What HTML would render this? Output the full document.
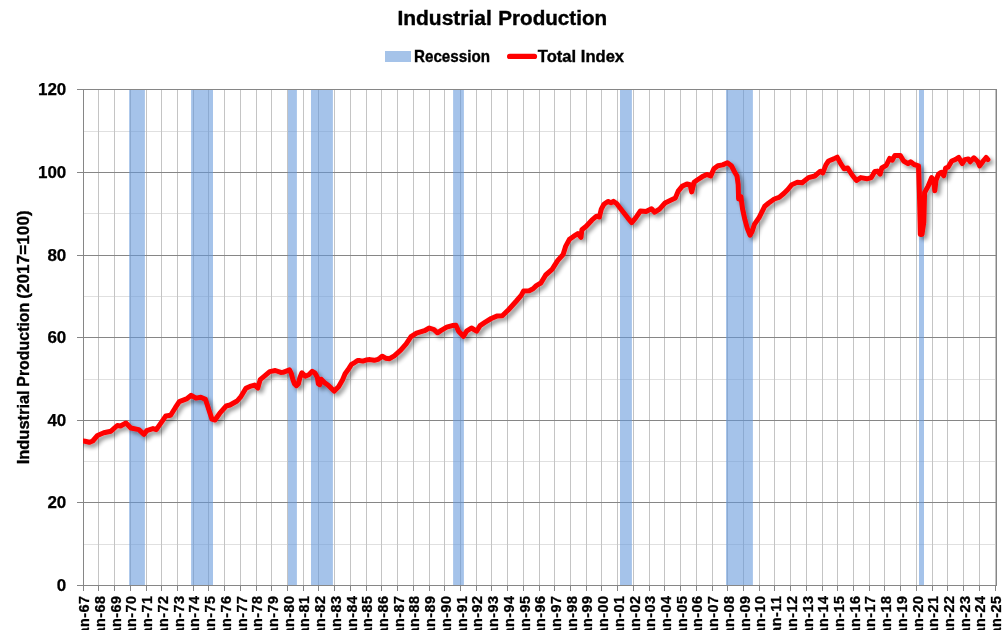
<!DOCTYPE html>
<html lang="en"><head><meta charset="utf-8"><title>Industrial Production</title>
<style>html,body{margin:0;padding:0;background:#fff}body{width:1007px;height:630px;overflow:hidden}svg{display:block}text{font-family:"Liberation Sans",sans-serif;font-weight:bold;fill:#000}</style></head><body>
<svg width="1007" height="630" viewBox="0 0 1007 630">
<defs><clipPath id="cp"><rect x="83" y="80" width="924" height="520"/></clipPath><filter id="sh" x="-5%" y="-20%" width="110%" height="140%"><feGaussianBlur in="SourceAlpha" stdDeviation="2.1"/><feOffset dx="3" dy="3"/><feComponentTransfer><feFuncA type="linear" slope="0.42"/></feComponentTransfer><feMerge><feMergeNode/><feMergeNode in="SourceGraphic"/></feMerge></filter></defs>
<rect width="1007" height="630" fill="#fff"/>
<g shape-rendering="crispEdges"><rect x="84" y="544" width="912" height="1" fill="#e0e0e0"/><rect x="84" y="461" width="912" height="1" fill="#e0e0e0"/><rect x="84" y="379" width="912" height="1" fill="#e0e0e0"/><rect x="84" y="296" width="912" height="1" fill="#e0e0e0"/><rect x="84" y="213" width="912" height="1" fill="#e0e0e0"/><rect x="84" y="131" width="912" height="1" fill="#e0e0e0"/><rect x="98" y="90" width="1" height="495" fill="#c4c4c4"/><rect x="114" y="90" width="1" height="495" fill="#c4c4c4"/><rect x="130" y="90" width="1" height="495" fill="#c4c4c4"/><rect x="146" y="90" width="1" height="495" fill="#c4c4c4"/><rect x="161" y="90" width="1" height="495" fill="#c4c4c4"/><rect x="177" y="90" width="1" height="495" fill="#c4c4c4"/><rect x="193" y="90" width="1" height="495" fill="#c4c4c4"/><rect x="208" y="90" width="1" height="495" fill="#c4c4c4"/><rect x="224" y="90" width="1" height="495" fill="#c4c4c4"/><rect x="240" y="90" width="1" height="495" fill="#c4c4c4"/><rect x="256" y="90" width="1" height="495" fill="#c4c4c4"/><rect x="271" y="90" width="1" height="495" fill="#c4c4c4"/><rect x="287" y="90" width="1" height="495" fill="#c4c4c4"/><rect x="303" y="90" width="1" height="495" fill="#c4c4c4"/><rect x="318" y="90" width="1" height="495" fill="#c4c4c4"/><rect x="334" y="90" width="1" height="495" fill="#c4c4c4"/><rect x="350" y="90" width="1" height="495" fill="#c4c4c4"/><rect x="366" y="90" width="1" height="495" fill="#c4c4c4"/><rect x="381" y="90" width="1" height="495" fill="#c4c4c4"/><rect x="397" y="90" width="1" height="495" fill="#c4c4c4"/><rect x="413" y="90" width="1" height="495" fill="#c4c4c4"/><rect x="429" y="90" width="1" height="495" fill="#c4c4c4"/><rect x="444" y="90" width="1" height="495" fill="#c4c4c4"/><rect x="460" y="90" width="1" height="495" fill="#c4c4c4"/><rect x="476" y="90" width="1" height="495" fill="#c4c4c4"/><rect x="491" y="90" width="1" height="495" fill="#c4c4c4"/><rect x="507" y="90" width="1" height="495" fill="#c4c4c4"/><rect x="523" y="90" width="1" height="495" fill="#c4c4c4"/><rect x="539" y="90" width="1" height="495" fill="#c4c4c4"/><rect x="554" y="90" width="1" height="495" fill="#c4c4c4"/><rect x="570" y="90" width="1" height="495" fill="#c4c4c4"/><rect x="586" y="90" width="1" height="495" fill="#c4c4c4"/><rect x="601" y="90" width="1" height="495" fill="#c4c4c4"/><rect x="617" y="90" width="1" height="495" fill="#c4c4c4"/><rect x="633" y="90" width="1" height="495" fill="#c4c4c4"/><rect x="649" y="90" width="1" height="495" fill="#c4c4c4"/><rect x="664" y="90" width="1" height="495" fill="#c4c4c4"/><rect x="680" y="90" width="1" height="495" fill="#c4c4c4"/><rect x="696" y="90" width="1" height="495" fill="#c4c4c4"/><rect x="712" y="90" width="1" height="495" fill="#c4c4c4"/><rect x="727" y="90" width="1" height="495" fill="#c4c4c4"/><rect x="743" y="90" width="1" height="495" fill="#c4c4c4"/><rect x="759" y="90" width="1" height="495" fill="#c4c4c4"/><rect x="774" y="90" width="1" height="495" fill="#c4c4c4"/><rect x="790" y="90" width="1" height="495" fill="#c4c4c4"/><rect x="806" y="90" width="1" height="495" fill="#c4c4c4"/><rect x="822" y="90" width="1" height="495" fill="#c4c4c4"/><rect x="837" y="90" width="1" height="495" fill="#c4c4c4"/><rect x="853" y="90" width="1" height="495" fill="#c4c4c4"/><rect x="869" y="90" width="1" height="495" fill="#c4c4c4"/><rect x="884" y="90" width="1" height="495" fill="#c4c4c4"/><rect x="900" y="90" width="1" height="495" fill="#c4c4c4"/><rect x="916" y="90" width="1" height="495" fill="#c4c4c4"/><rect x="932" y="90" width="1" height="495" fill="#c4c4c4"/><rect x="947" y="90" width="1" height="495" fill="#c4c4c4"/><rect x="963" y="90" width="1" height="495" fill="#c4c4c4"/><rect x="979" y="90" width="1" height="495" fill="#c4c4c4"/><rect x="995" y="90" width="1" height="495" fill="#c4c4c4"/><rect x="77" y="502" width="919" height="1" fill="#868686"/><rect x="77" y="420" width="919" height="1" fill="#868686"/><rect x="77" y="337" width="919" height="1" fill="#868686"/><rect x="77" y="255" width="919" height="1" fill="#868686"/><rect x="77" y="172" width="919" height="1" fill="#868686"/><rect x="77" y="89" width="919" height="1" fill="#868686"/><rect x="77" y="585" width="920" height="1" fill="#868686"/><rect x="83" y="89" width="1" height="497" fill="#868686"/><rect x="996" y="89" width="1" height="497" fill="#868686"/><rect x="83" y="586" width="1" height="5" fill="#868686"/><rect x="98" y="586" width="1" height="5" fill="#868686"/><rect x="114" y="586" width="1" height="5" fill="#868686"/><rect x="130" y="586" width="1" height="5" fill="#868686"/><rect x="146" y="586" width="1" height="5" fill="#868686"/><rect x="161" y="586" width="1" height="5" fill="#868686"/><rect x="177" y="586" width="1" height="5" fill="#868686"/><rect x="193" y="586" width="1" height="5" fill="#868686"/><rect x="208" y="586" width="1" height="5" fill="#868686"/><rect x="224" y="586" width="1" height="5" fill="#868686"/><rect x="240" y="586" width="1" height="5" fill="#868686"/><rect x="256" y="586" width="1" height="5" fill="#868686"/><rect x="271" y="586" width="1" height="5" fill="#868686"/><rect x="287" y="586" width="1" height="5" fill="#868686"/><rect x="303" y="586" width="1" height="5" fill="#868686"/><rect x="318" y="586" width="1" height="5" fill="#868686"/><rect x="334" y="586" width="1" height="5" fill="#868686"/><rect x="350" y="586" width="1" height="5" fill="#868686"/><rect x="366" y="586" width="1" height="5" fill="#868686"/><rect x="381" y="586" width="1" height="5" fill="#868686"/><rect x="397" y="586" width="1" height="5" fill="#868686"/><rect x="413" y="586" width="1" height="5" fill="#868686"/><rect x="429" y="586" width="1" height="5" fill="#868686"/><rect x="444" y="586" width="1" height="5" fill="#868686"/><rect x="460" y="586" width="1" height="5" fill="#868686"/><rect x="476" y="586" width="1" height="5" fill="#868686"/><rect x="491" y="586" width="1" height="5" fill="#868686"/><rect x="507" y="586" width="1" height="5" fill="#868686"/><rect x="523" y="586" width="1" height="5" fill="#868686"/><rect x="539" y="586" width="1" height="5" fill="#868686"/><rect x="554" y="586" width="1" height="5" fill="#868686"/><rect x="570" y="586" width="1" height="5" fill="#868686"/><rect x="586" y="586" width="1" height="5" fill="#868686"/><rect x="601" y="586" width="1" height="5" fill="#868686"/><rect x="617" y="586" width="1" height="5" fill="#868686"/><rect x="633" y="586" width="1" height="5" fill="#868686"/><rect x="649" y="586" width="1" height="5" fill="#868686"/><rect x="664" y="586" width="1" height="5" fill="#868686"/><rect x="680" y="586" width="1" height="5" fill="#868686"/><rect x="696" y="586" width="1" height="5" fill="#868686"/><rect x="712" y="586" width="1" height="5" fill="#868686"/><rect x="727" y="586" width="1" height="5" fill="#868686"/><rect x="743" y="586" width="1" height="5" fill="#868686"/><rect x="759" y="586" width="1" height="5" fill="#868686"/><rect x="774" y="586" width="1" height="5" fill="#868686"/><rect x="790" y="586" width="1" height="5" fill="#868686"/><rect x="806" y="586" width="1" height="5" fill="#868686"/><rect x="822" y="586" width="1" height="5" fill="#868686"/><rect x="837" y="586" width="1" height="5" fill="#868686"/><rect x="853" y="586" width="1" height="5" fill="#868686"/><rect x="869" y="586" width="1" height="5" fill="#868686"/><rect x="884" y="586" width="1" height="5" fill="#868686"/><rect x="900" y="586" width="1" height="5" fill="#868686"/><rect x="916" y="586" width="1" height="5" fill="#868686"/><rect x="932" y="586" width="1" height="5" fill="#868686"/><rect x="947" y="586" width="1" height="5" fill="#868686"/><rect x="963" y="586" width="1" height="5" fill="#868686"/><rect x="979" y="586" width="1" height="5" fill="#868686"/><rect x="995" y="586" width="1" height="5" fill="#868686"/></g>
<g fill="rgb(100,152,218)" fill-opacity="0.58"><rect x="129.1" y="90" width="15.8" height="495"/><rect x="191.1" y="90" width="21.9" height="495"/><rect x="288.0" y="90" width="8.9" height="495"/><rect x="311.0" y="90" width="21.9" height="495"/><rect x="453.1" y="90" width="10.8" height="495"/><rect x="620.0" y="90" width="11.9" height="495"/><rect x="726.0" y="90" width="26.9" height="495"/><rect x="919.0" y="90" width="5.0" height="495"/></g>
<g clip-path="url(#cp)"><path d="M81.0 440.6 L85.0 441.3 L89.3 442.3 L92.7 441.0 L97.5 435.5 L103.8 432.8 L111.0 431.2 L117.3 425.5 L120.5 426.0 L126.0 423.0 L130.8 428.0 L138.8 429.6 L144.0 434.4 L146.7 430.7 L153.0 428.6 L156.3 429.6 L161.0 422.8 L165.8 416.0 L170.6 415.3 L175.3 407.7 L179.3 401.6 L186.5 398.9 L191.2 395.3 L196.0 398.1 L200.8 397.3 L205.5 399.4 L208.7 409.3 L211.9 419.1 L215.0 420.0 L219.8 413.2 L226.2 406.0 L230.0 405.0 L237.1 401.0 L241.1 396.3 L245.9 388.3 L249.9 386.4 L254.6 385.1 L257.8 388.0 L260.2 379.6 L265.0 375.6 L269.7 371.6 L275.3 370.5 L280.8 372.4 L283.0 372.3 L289.5 369.8 L291.4 373.8 L292.9 379.7 L294.4 383.7 L296.4 385.7 L298.4 383.7 L299.9 377.7 L301.9 372.8 L305.3 376.2 L308.8 374.8 L312.3 371.3 L314.8 372.8 L317.3 377.2 L318.3 383.7 L319.7 384.7 L321.2 379.2 L324.7 382.7 L328.2 385.2 L334.1 391.1 L338.6 386.7 L342.6 379.7 L345.1 373.8 L348.0 369.8 L351.5 364.3 L355.0 362.3 L357.5 360.6 L360.0 360.6 L362.8 361.1 L366.0 360.1 L370.0 359.6 L374.3 360.3 L378.0 359.3 L380.0 358.0 L382.2 356.2 L385.6 358.2 L389.5 358.7 L394.3 355.8 L400.7 350.2 L406.2 343.9 L411.0 336.7 L416.5 333.2 L424.5 330.7 L429.3 328.0 L434.0 329.6 L437.5 332.8 L441.2 330.4 L446.7 327.2 L452.3 325.6 L455.9 325.3 L458.6 331.2 L463.4 336.4 L466.6 331.2 L471.4 328.0 L476.6 331.2 L480.1 325.6 L484.9 322.4 L491.2 318.5 L496.8 316.1 L502.3 315.8 L508.5 309.7 L516.4 301.0 L521.2 295.4 L523.6 291.0 L529.2 290.7 L533.1 288.7 L536.3 285.6 L540.9 283.0 L545.7 275.0 L552.1 269.4 L557.6 260.7 L563.2 254.3 L565.6 246.4 L569.5 239.3 L573.5 236.4 L577.8 233.7 L581.0 237.3 L581.9 229.7 L586.2 226.2 L591.8 220.2 L596.5 216.2 L599.4 217.0 L601.3 209.1 L603.9 204.3 L607.9 201.4 L611.0 202.7 L613.4 201.4 L616.6 203.5 L622.2 210.7 L627.7 217.8 L631.7 222.6 L635.7 217.8 L640.4 211.0 L646.0 211.4 L651.5 208.7 L654.7 212.2 L659.5 209.1 L665.0 203.0 L670.6 200.3 L675.4 197.9 L678.2 191.1 L682.1 186.3 L686.9 183.9 L690.1 184.7 L691.7 191.9 L694.1 182.3 L697.2 180.0 L702.0 176.8 L706.8 174.4 L710.7 176.0 L713.9 168.8 L717.9 165.7 L722.7 164.9 L727.4 162.8 L731.4 165.7 L734.6 172.0 L737.0 176.0 L738.2 184.7 L738.6 199.0 L740.9 196.6 L742.5 208.6 L744.9 219.7 L747.3 228.4 L750.0 235.2 L752.1 231.6 L754.4 224.4 L759.2 217.3 L764.8 206.2 L768.7 203.0 L774.3 199.0 L779.1 197.4 L783.8 193.5 L787.8 189.5 L791.8 184.7 L797.3 182.3 L802.1 182.8 L808.5 177.6 L814.8 176.0 L820.4 171.2 L822.8 172.8 L825.9 164.9 L828.5 161.0 L833.7 158.9 L837.2 157.1 L840.7 163.6 L844.2 168.8 L847.7 168.0 L852.1 175.0 L856.5 180.5 L860.8 177.6 L866.9 178.8 L871.3 177.6 L874.8 171.5 L877.4 171.1 L880.1 174.1 L881.8 168.0 L886.2 165.3 L889.7 158.4 L892.3 160.1 L894.9 155.4 L900.2 155.4 L903.6 161.0 L908.0 163.6 L910.6 161.8 L914.1 164.5 L918.5 165.9 L919.4 192.4 L920.3 234.4 L922.0 234.4 L923.8 222.1 L924.6 192.4 L928.1 186.3 L931.6 177.6 L933.7 181.1 L934.8 190.7 L936.0 180.2 L938.6 174.1 L941.2 172.3 L943.8 175.8 L945.6 168.0 L948.2 167.1 L951.7 161.0 L955.2 159.6 L958.7 157.5 L962.2 163.6 L964.8 159.6 L968.3 158.9 L970.1 161.8 L973.9 157.8 L977.9 161.8 L979.7 165.9 L983.2 161.0 L986.1 157.5 L987.9 159.6" fill="none" stroke="#ff0000" stroke-width="5" stroke-linejoin="round" stroke-linecap="round" filter="url(#sh)"/></g>
<text x="397.4" y="24.6" font-size="20.9" stroke="#000" stroke-width="0.4" textLength="94.5" lengthAdjust="spacingAndGlyphs">Industrial</text>
<text x="498.3" y="24.6" font-size="20.9" stroke="#000" stroke-width="0.4" textLength="108.8" lengthAdjust="spacingAndGlyphs">Production</text>
<rect x="385" y="51" width="26" height="11" fill="#a5c3e9"/>
<text x="414" y="61.8" font-size="16.3" stroke="#000" stroke-width="0.35" textLength="76" lengthAdjust="spacingAndGlyphs">Recession</text>
<line x1="509.6" y1="56.4" x2="534.5" y2="56.4" stroke="#ff0000" stroke-width="5.2" stroke-linecap="round"/>
<text x="537.8" y="61.8" font-size="16.3" stroke="#000" stroke-width="0.35" textLength="86.3" lengthAdjust="spacingAndGlyphs">Total Index</text>
<text x="66.3" y="591.0" font-size="17" stroke="#000" stroke-width="0.25" text-anchor="end">0</text>
<text x="66.3" y="508.0" font-size="17" stroke="#000" stroke-width="0.25" text-anchor="end">20</text>
<text x="66.3" y="426.0" font-size="17" stroke="#000" stroke-width="0.25" text-anchor="end">40</text>
<text x="66.3" y="343.0" font-size="17" stroke="#000" stroke-width="0.25" text-anchor="end">60</text>
<text x="66.3" y="261.0" font-size="17" stroke="#000" stroke-width="0.25" text-anchor="end">80</text>
<text x="66.3" y="178.0" font-size="17" stroke="#000" stroke-width="0.25" text-anchor="end">100</text>
<text x="66.3" y="95.0" font-size="17" stroke="#000" stroke-width="0.25" text-anchor="end">120</text>
<text transform="translate(28.8 464.3) rotate(-90)" font-size="16.5" stroke="#000" stroke-width="0.35" textLength="74" lengthAdjust="spacingAndGlyphs">Industrial</text>
<text transform="translate(28.8 386.7) rotate(-90)" font-size="16.5" stroke="#000" stroke-width="0.35" textLength="84" lengthAdjust="spacingAndGlyphs">Production</text>
<text transform="translate(28.8 298.8) rotate(-90)" font-size="16.5" stroke="#000" stroke-width="0.35" textLength="88.5" lengthAdjust="spacingAndGlyphs">(2017=100)</text>
<text transform="translate(89.2 595.5) rotate(-90)" font-size="14.4" letter-spacing="0.47" stroke="#000" stroke-width="0.3" text-anchor="end">Jan-67</text>
<text transform="translate(105.0 595.5) rotate(-90)" font-size="14.4" letter-spacing="0.47" stroke="#000" stroke-width="0.3" text-anchor="end">Jan-68</text>
<text transform="translate(120.7 595.5) rotate(-90)" font-size="14.4" letter-spacing="0.47" stroke="#000" stroke-width="0.3" text-anchor="end">Jan-69</text>
<text transform="translate(136.4 595.5) rotate(-90)" font-size="14.4" letter-spacing="0.47" stroke="#000" stroke-width="0.3" text-anchor="end">Jan-70</text>
<text transform="translate(152.1 595.5) rotate(-90)" font-size="14.4" letter-spacing="0.47" stroke="#000" stroke-width="0.3" text-anchor="end">Jan-71</text>
<text transform="translate(167.9 595.5) rotate(-90)" font-size="14.4" letter-spacing="0.47" stroke="#000" stroke-width="0.3" text-anchor="end">Jan-72</text>
<text transform="translate(183.6 595.5) rotate(-90)" font-size="14.4" letter-spacing="0.47" stroke="#000" stroke-width="0.3" text-anchor="end">Jan-73</text>
<text transform="translate(199.3 595.5) rotate(-90)" font-size="14.4" letter-spacing="0.47" stroke="#000" stroke-width="0.3" text-anchor="end">Jan-74</text>
<text transform="translate(215.0 595.5) rotate(-90)" font-size="14.4" letter-spacing="0.47" stroke="#000" stroke-width="0.3" text-anchor="end">Jan-75</text>
<text transform="translate(230.7 595.5) rotate(-90)" font-size="14.4" letter-spacing="0.47" stroke="#000" stroke-width="0.3" text-anchor="end">Jan-76</text>
<text transform="translate(246.5 595.5) rotate(-90)" font-size="14.4" letter-spacing="0.47" stroke="#000" stroke-width="0.3" text-anchor="end">Jan-77</text>
<text transform="translate(262.2 595.5) rotate(-90)" font-size="14.4" letter-spacing="0.47" stroke="#000" stroke-width="0.3" text-anchor="end">Jan-78</text>
<text transform="translate(277.9 595.5) rotate(-90)" font-size="14.4" letter-spacing="0.47" stroke="#000" stroke-width="0.3" text-anchor="end">Jan-79</text>
<text transform="translate(293.6 595.5) rotate(-90)" font-size="14.4" letter-spacing="0.47" stroke="#000" stroke-width="0.3" text-anchor="end">Jan-80</text>
<text transform="translate(309.4 595.5) rotate(-90)" font-size="14.4" letter-spacing="0.47" stroke="#000" stroke-width="0.3" text-anchor="end">Jan-81</text>
<text transform="translate(325.1 595.5) rotate(-90)" font-size="14.4" letter-spacing="0.47" stroke="#000" stroke-width="0.3" text-anchor="end">Jan-82</text>
<text transform="translate(340.8 595.5) rotate(-90)" font-size="14.4" letter-spacing="0.47" stroke="#000" stroke-width="0.3" text-anchor="end">Jan-83</text>
<text transform="translate(356.5 595.5) rotate(-90)" font-size="14.4" letter-spacing="0.47" stroke="#000" stroke-width="0.3" text-anchor="end">Jan-84</text>
<text transform="translate(372.2 595.5) rotate(-90)" font-size="14.4" letter-spacing="0.47" stroke="#000" stroke-width="0.3" text-anchor="end">Jan-85</text>
<text transform="translate(388.0 595.5) rotate(-90)" font-size="14.4" letter-spacing="0.47" stroke="#000" stroke-width="0.3" text-anchor="end">Jan-86</text>
<text transform="translate(403.7 595.5) rotate(-90)" font-size="14.4" letter-spacing="0.47" stroke="#000" stroke-width="0.3" text-anchor="end">Jan-87</text>
<text transform="translate(419.4 595.5) rotate(-90)" font-size="14.4" letter-spacing="0.47" stroke="#000" stroke-width="0.3" text-anchor="end">Jan-88</text>
<text transform="translate(435.1 595.5) rotate(-90)" font-size="14.4" letter-spacing="0.47" stroke="#000" stroke-width="0.3" text-anchor="end">Jan-89</text>
<text transform="translate(450.9 595.5) rotate(-90)" font-size="14.4" letter-spacing="0.47" stroke="#000" stroke-width="0.3" text-anchor="end">Jan-90</text>
<text transform="translate(466.6 595.5) rotate(-90)" font-size="14.4" letter-spacing="0.47" stroke="#000" stroke-width="0.3" text-anchor="end">Jan-91</text>
<text transform="translate(482.3 595.5) rotate(-90)" font-size="14.4" letter-spacing="0.47" stroke="#000" stroke-width="0.3" text-anchor="end">Jan-92</text>
<text transform="translate(498.0 595.5) rotate(-90)" font-size="14.4" letter-spacing="0.47" stroke="#000" stroke-width="0.3" text-anchor="end">Jan-93</text>
<text transform="translate(513.7 595.5) rotate(-90)" font-size="14.4" letter-spacing="0.47" stroke="#000" stroke-width="0.3" text-anchor="end">Jan-94</text>
<text transform="translate(529.5 595.5) rotate(-90)" font-size="14.4" letter-spacing="0.47" stroke="#000" stroke-width="0.3" text-anchor="end">Jan-95</text>
<text transform="translate(545.2 595.5) rotate(-90)" font-size="14.4" letter-spacing="0.47" stroke="#000" stroke-width="0.3" text-anchor="end">Jan-96</text>
<text transform="translate(560.9 595.5) rotate(-90)" font-size="14.4" letter-spacing="0.47" stroke="#000" stroke-width="0.3" text-anchor="end">Jan-97</text>
<text transform="translate(576.6 595.5) rotate(-90)" font-size="14.4" letter-spacing="0.47" stroke="#000" stroke-width="0.3" text-anchor="end">Jan-98</text>
<text transform="translate(592.4 595.5) rotate(-90)" font-size="14.4" letter-spacing="0.47" stroke="#000" stroke-width="0.3" text-anchor="end">Jan-99</text>
<text transform="translate(608.1 595.5) rotate(-90)" font-size="14.4" letter-spacing="0.47" stroke="#000" stroke-width="0.3" text-anchor="end">Jan-00</text>
<text transform="translate(623.8 595.5) rotate(-90)" font-size="14.4" letter-spacing="0.47" stroke="#000" stroke-width="0.3" text-anchor="end">Jan-01</text>
<text transform="translate(639.5 595.5) rotate(-90)" font-size="14.4" letter-spacing="0.47" stroke="#000" stroke-width="0.3" text-anchor="end">Jan-02</text>
<text transform="translate(655.2 595.5) rotate(-90)" font-size="14.4" letter-spacing="0.47" stroke="#000" stroke-width="0.3" text-anchor="end">Jan-03</text>
<text transform="translate(671.0 595.5) rotate(-90)" font-size="14.4" letter-spacing="0.47" stroke="#000" stroke-width="0.3" text-anchor="end">Jan-04</text>
<text transform="translate(686.7 595.5) rotate(-90)" font-size="14.4" letter-spacing="0.47" stroke="#000" stroke-width="0.3" text-anchor="end">Jan-05</text>
<text transform="translate(702.4 595.5) rotate(-90)" font-size="14.4" letter-spacing="0.47" stroke="#000" stroke-width="0.3" text-anchor="end">Jan-06</text>
<text transform="translate(718.1 595.5) rotate(-90)" font-size="14.4" letter-spacing="0.47" stroke="#000" stroke-width="0.3" text-anchor="end">Jan-07</text>
<text transform="translate(733.9 595.5) rotate(-90)" font-size="14.4" letter-spacing="0.47" stroke="#000" stroke-width="0.3" text-anchor="end">Jan-08</text>
<text transform="translate(749.6 595.5) rotate(-90)" font-size="14.4" letter-spacing="0.47" stroke="#000" stroke-width="0.3" text-anchor="end">Jan-09</text>
<text transform="translate(765.3 595.5) rotate(-90)" font-size="14.4" letter-spacing="0.47" stroke="#000" stroke-width="0.3" text-anchor="end">Jan-10</text>
<text transform="translate(781.0 595.5) rotate(-90)" font-size="14.4" letter-spacing="0.47" stroke="#000" stroke-width="0.3" text-anchor="end">Jan-11</text>
<text transform="translate(796.7 595.5) rotate(-90)" font-size="14.4" letter-spacing="0.47" stroke="#000" stroke-width="0.3" text-anchor="end">Jan-12</text>
<text transform="translate(812.5 595.5) rotate(-90)" font-size="14.4" letter-spacing="0.47" stroke="#000" stroke-width="0.3" text-anchor="end">Jan-13</text>
<text transform="translate(828.2 595.5) rotate(-90)" font-size="14.4" letter-spacing="0.47" stroke="#000" stroke-width="0.3" text-anchor="end">Jan-14</text>
<text transform="translate(843.9 595.5) rotate(-90)" font-size="14.4" letter-spacing="0.47" stroke="#000" stroke-width="0.3" text-anchor="end">Jan-15</text>
<text transform="translate(859.6 595.5) rotate(-90)" font-size="14.4" letter-spacing="0.47" stroke="#000" stroke-width="0.3" text-anchor="end">Jan-16</text>
<text transform="translate(875.4 595.5) rotate(-90)" font-size="14.4" letter-spacing="0.47" stroke="#000" stroke-width="0.3" text-anchor="end">Jan-17</text>
<text transform="translate(891.1 595.5) rotate(-90)" font-size="14.4" letter-spacing="0.47" stroke="#000" stroke-width="0.3" text-anchor="end">Jan-18</text>
<text transform="translate(906.8 595.5) rotate(-90)" font-size="14.4" letter-spacing="0.47" stroke="#000" stroke-width="0.3" text-anchor="end">Jan-19</text>
<text transform="translate(922.5 595.5) rotate(-90)" font-size="14.4" letter-spacing="0.47" stroke="#000" stroke-width="0.3" text-anchor="end">Jan-20</text>
<text transform="translate(938.2 595.5) rotate(-90)" font-size="14.4" letter-spacing="0.47" stroke="#000" stroke-width="0.3" text-anchor="end">Jan-21</text>
<text transform="translate(954.0 595.5) rotate(-90)" font-size="14.4" letter-spacing="0.47" stroke="#000" stroke-width="0.3" text-anchor="end">Jan-22</text>
<text transform="translate(969.7 595.5) rotate(-90)" font-size="14.4" letter-spacing="0.47" stroke="#000" stroke-width="0.3" text-anchor="end">Jan-23</text>
<text transform="translate(985.4 595.5) rotate(-90)" font-size="14.4" letter-spacing="0.47" stroke="#000" stroke-width="0.3" text-anchor="end">Jan-24</text>
<text transform="translate(1001.1 595.5) rotate(-90)" font-size="14.4" letter-spacing="0.47" stroke="#000" stroke-width="0.3" text-anchor="end">Jan-25</text>
</svg></body></html>
